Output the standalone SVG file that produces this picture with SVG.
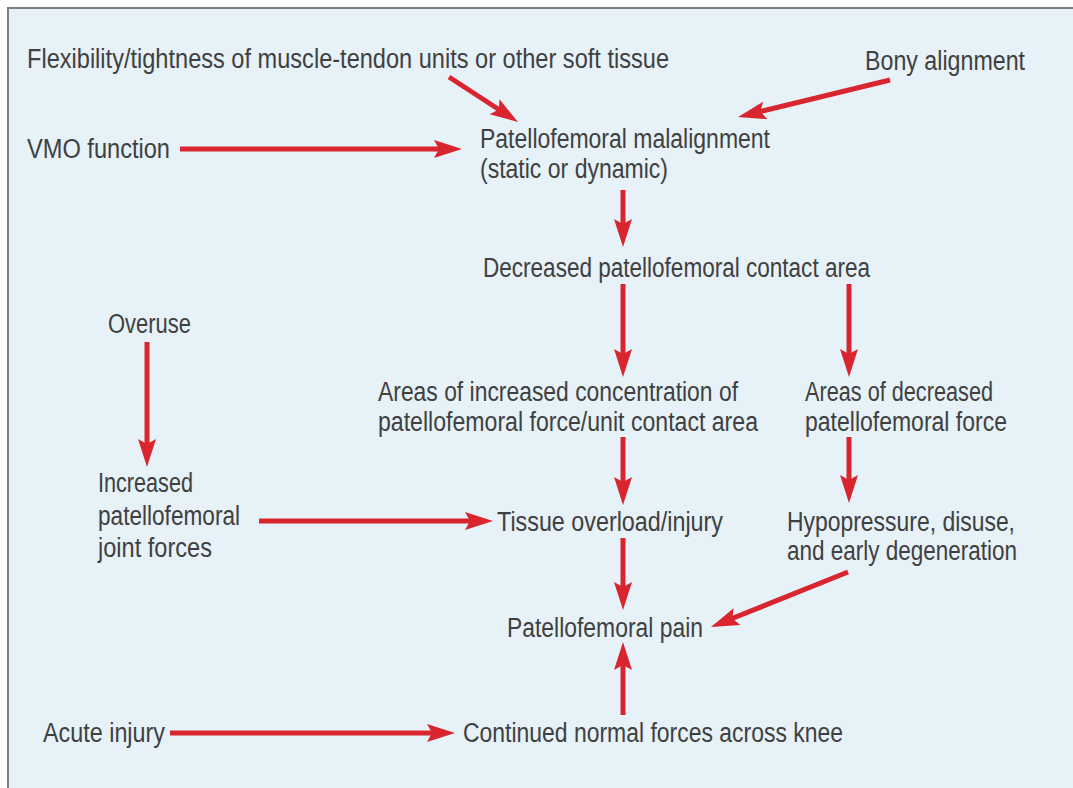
<svg xmlns="http://www.w3.org/2000/svg" width="1073" height="788" viewBox="0 0 1073 788">
<style>
  text { font-family: "Liberation Sans Narrow", "Liberation Sans", Arial, sans-serif; font-size: 27px; fill: #404040; }
  .c { stroke: #d9252e; stroke-width: 5; fill: none; marker-end: url(#ah); }
</style>
<defs>
  <marker id="ah" markerUnits="userSpaceOnUse" markerWidth="30" markerHeight="20" refX="6" refY="9" orient="auto" overflow="visible">
    <path d="M0,0 L28,9 L0,18 L5,9 Z" fill="#d9252e"/>
  </marker>
</defs>
<rect x="0" y="0" width="1073" height="788" fill="#ffffff"/>
<rect x="8" y="8" width="1080" height="800" fill="#e6f1f8" stroke="#7e7e7e" stroke-width="2"/>

<g id="connectors">
  <line class="c" x1="449" y1="77" x2="499.6" y2="110"/>
  <line class="c" x1="890" y1="80" x2="759.4" y2="111.8"/>
  <line class="c" x1="180" y1="149" x2="440" y2="149"/>
  <line class="c" x1="623" y1="190" x2="623" y2="225"/>
  <line class="c" x1="623" y1="284" x2="623" y2="355"/>
  <line class="c" x1="849" y1="284" x2="849" y2="355"/>
  <line class="c" x1="147" y1="342" x2="147" y2="445"/>
  <line class="c" x1="623" y1="437" x2="623" y2="483"/>
  <line class="c" x1="849" y1="437" x2="849" y2="481"/>
  <line class="c" x1="259" y1="521" x2="471" y2="521"/>
  <line class="c" x1="623" y1="538" x2="623" y2="588"/>
  <line class="c" x1="848" y1="572" x2="731.4" y2="618.8"/>
  <line class="c" x1="623" y1="715" x2="623" y2="664"/>
  <line class="c" x1="170" y1="733" x2="433" y2="733"/>
</g>

<g id="flexibility"><text x="27" y="68" textLength="642" lengthAdjust="spacingAndGlyphs">Flexibility/tightness of muscle-tendon units or other soft tissue</text></g>
<g id="bony"><text x="865" y="70" textLength="160" lengthAdjust="spacingAndGlyphs">Bony alignment</text></g>
<g id="vmo"><text x="27" y="158" textLength="143" lengthAdjust="spacingAndGlyphs">VMO function</text></g>
<g id="malalignment">
  <text x="480" y="148" textLength="290" lengthAdjust="spacingAndGlyphs">Patellofemoral malalignment</text>
  <text x="480" y="178" textLength="188" lengthAdjust="spacingAndGlyphs">(static or dynamic)</text>
</g>
<g id="decreased-contact"><text x="483" y="277" textLength="387" lengthAdjust="spacingAndGlyphs">Decreased patellofemoral contact area</text></g>
<g id="overuse"><text x="108" y="333" textLength="83" lengthAdjust="spacingAndGlyphs">Overuse</text></g>
<g id="increased-concentration">
  <text x="378" y="401" textLength="360" lengthAdjust="spacingAndGlyphs">Areas of increased concentration of</text>
  <text x="378" y="431" textLength="380" lengthAdjust="spacingAndGlyphs">patellofemoral force/unit contact area</text>
</g>
<g id="decreased-force">
  <text x="805" y="401" textLength="188" lengthAdjust="spacingAndGlyphs">Areas of decreased</text>
  <text x="805" y="431" textLength="202" lengthAdjust="spacingAndGlyphs">patellofemoral force</text>
</g>
<g id="increased-joint">
  <text x="98" y="492" textLength="95" lengthAdjust="spacingAndGlyphs">Increased</text>
  <text x="98" y="525" textLength="142" lengthAdjust="spacingAndGlyphs">patellofemoral</text>
  <text x="98" y="557" textLength="114" lengthAdjust="spacingAndGlyphs">joint forces</text>
</g>
<g id="tissue"><text x="497" y="531" textLength="226" lengthAdjust="spacingAndGlyphs">Tissue overload/injury</text></g>
<g id="hypopressure">
  <text x="787" y="531" textLength="228" lengthAdjust="spacingAndGlyphs">Hypopressure, disuse,</text>
  <text x="787" y="560" textLength="230" lengthAdjust="spacingAndGlyphs">and early degeneration</text>
</g>
<g id="pain"><text x="507" y="637" textLength="196" lengthAdjust="spacingAndGlyphs">Patellofemoral pain</text></g>
<g id="acute"><text x="43" y="742" textLength="122" lengthAdjust="spacingAndGlyphs">Acute injury</text></g>
<g id="continued"><text x="463" y="742" textLength="380" lengthAdjust="spacingAndGlyphs">Continued normal forces across knee</text></g>
</svg>
